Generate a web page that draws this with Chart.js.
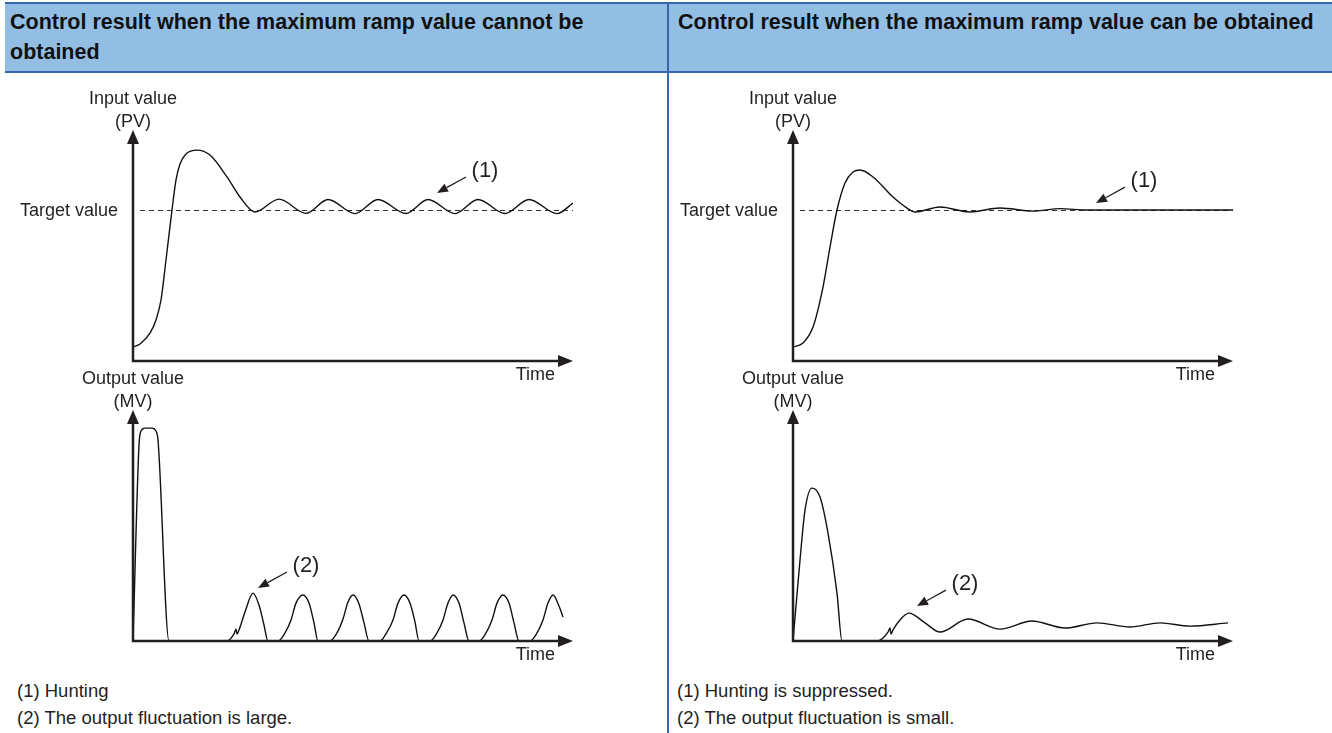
<!DOCTYPE html>
<html>
<head>
<meta charset="utf-8">
<script src="https://cdn.jsdelivr.net/npm/chart.js@4.4.1/dist/chart.umd.min.js"></script>
<style>
  body { margin: 0; width: 1332px; height: 733px; background: #fff; position: relative; overflow: hidden;
         font-family: "Liberation Sans", Arial, sans-serif; color: #231f20; }
  .bar { position: absolute; background: #3b64b0; }
  .head { position: absolute; top: 4px; height: 67px; background: #92bee4; }
  .htext { position: absolute; font-weight: bold; font-size: 21.5px; line-height: 30px; color: #111; white-space: nowrap; }
  .note { position: absolute; font-size: 18.5px; line-height: 20px; white-space: nowrap; }
  canvas { position: absolute; }
</style>
</head>
<body>
<div class="head" style="left:5px;width:662px"></div>
<div class="head" style="left:669px;width:663px"></div>
<div class="bar" style="left:5px;top:2px;width:1327px;height:2px"></div>
<div class="bar" style="left:5px;top:71px;width:1327px;height:2px"></div>
<div class="bar" style="left:667px;top:2px;width:2px;height:731px"></div>
<div class="htext" style="left:10px;top:7px">Control result when the maximum ramp value cannot be<br>obtained</div>
<div class="htext" style="left:678px;top:7px">Control result when the maximum ramp value can be obtained</div>

<canvas id="pvHunt" width="668" height="300" style="left:0;top:80px"></canvas>
<canvas id="mvHunt" width="668" height="300" style="left:0;top:360px"></canvas>
<canvas id="pvTuned" width="672" height="300" style="left:660px;top:80px"></canvas>
<canvas id="mvTuned" width="672" height="300" style="left:660px;top:360px"></canvas>

<div class="note" style="left:17px;top:681px">(1) Hunting</div>
<div class="note" style="left:17px;top:708px">(2) The output fluctuation is large.</div>
<div class="note" style="left:677px;top:681px">(1) Hunting is suppressed.</div>
<div class="note" style="left:677px;top:708px">(2) The output fluctuation is small.</div>

<script>
// time runs 0..440 along each axis; PV in % of target, MV in % of the first plateau
const TIME_MAX = 440;
const TARGET = 100;
const PV_MAX = 153;
const MV_MAX = 108.5;

// ramp value not obtained: hunting
const pvHuntTime = [0, 7, 17, 23, 28, 33, 39, 43, 47, 53, 64, 77, 94, 107, 122,
  146, 173, 195, 222, 245, 273, 295, 322, 345, 372, 396, 424, 440];
const pvHuntValue = [9.3, 11.3, 18.5, 27.2, 40.4, 66.9, 100, 119.9, 130.5, 137.1, 139.7, 136.4, 121.9, 108.6, 98.7,
  107.2, 97.8, 107, 97.6, 107, 97.7, 107, 97.6, 107, 97.7, 107, 97.6, 104.6];

const mvHuntTime = [0, 6, 8, 12, 19, 23, 25, 36,
  94, 101, 103, 104, 106, 112, 120, 126, 131, 135,
  145, 152, 158, 163, 170, 176, 181, 185,
  197, 204, 210, 215, 220, 226, 231, 236,
  247, 254, 260, 265, 271, 277, 282, 286,
  297, 304, 310, 315, 320, 326, 331, 336,
  346, 353, 359, 364, 370, 376, 381, 386,
  397, 404, 410, 415, 420, 426, 430];
const mvHuntValue = [0, 92.0, 98.6, 100, 100, 98.6, 94.4, 0,
  0, 3.3, 5.6, 3.3, 5.2, 13.6, 22.5, 16.9, 7.5, 0,
  0, 3.8, 9.9, 17.8, 21.6, 17.8, 8.5, 0,
  0, 3.8, 10.3, 18.3, 21.6, 17.4, 8.5, 0,
  0, 4.2, 9.9, 17.8, 21.6, 17.8, 8.9, 0,
  0, 3.8, 9.9, 17.8, 21.6, 17.8, 8.5, 0,
  0, 3.8, 9.9, 17.8, 21.6, 17.8, 8.5, 0,
  0, 3.8, 9.9, 17.8, 21.6, 16.4, 11.3];

// ramp value obtained: hunting suppressed
const pvTunedTime = [0, 10, 20, 30, 37, 44, 52, 60, 67, 80, 100, 114, 122,
  147, 177, 207, 240, 267, 294, 440];
const pvTunedValue = [9.3, 11.9, 22.5, 49.0, 75.5, 100, 117.9, 125.2, 126.5, 121.9, 108.6, 101.3, 98.7,
  102.0, 98.7, 101.3, 99.3, 100.9, 100, 100];

const mvTunedTime = [0, 7, 12, 19, 27, 35, 44, 49,
  84, 95, 97, 98, 100, 107, 116, 132, 147, 175, 207, 239, 272, 304, 337, 367, 397, 435];
const mvTunedValue = [0, 38.0, 61.5, 71.8, 67.6, 50.7, 22.5, 0,
  0, 4.2, 6.1, 3.3, 5.2, 9.9, 13.1, 8.5, 4.2, 10.3, 5.6, 9.4, 6.1, 8.5, 6.6, 8.5, 7.0, 8.5];

const ink = '#231f20';
const FONT = '"Liberation Sans", Arial, sans-serif';

// axes with arrowheads, target line, labels and the numbered pointer
const diagram = {
  id: 'diagram',
  beforeDatasetsDraw(chart, args, o) {
    if (o.target == null) return;
    const { ctx, chartArea: a, scales: { y } } = chart;
    const ty = Math.round(y.getPixelForValue(o.target)) + 0.5;
    ctx.save();
    ctx.strokeStyle = '#333';
    ctx.lineWidth = 1;
    ctx.setLineDash([5, 4]);
    ctx.beginPath();
    ctx.moveTo(a.left + 7, ty);
    ctx.lineTo(a.right, ty);
    ctx.stroke();
    ctx.setLineDash([]);
    ctx.fillStyle = ink;
    ctx.font = '18px ' + FONT;
    ctx.textAlign = 'right';
    ctx.textBaseline = 'middle';
    ctx.fillText('Target value', a.left - 15, ty + 1);
    ctx.restore();
  },
  afterDatasetsDraw(chart, args, o) {
    const { ctx, chartArea: a, scales: { x, y } } = chart;
    ctx.save();
    ctx.strokeStyle = ink;
    ctx.fillStyle = ink;
    ctx.lineWidth = 2.5;
    ctx.lineJoin = 'miter';
    ctx.beginPath();
    ctx.moveTo(a.left, a.top + 10);
    ctx.lineTo(a.left, a.bottom);
    ctx.lineTo(a.right - 10, a.bottom);
    ctx.stroke();
    ctx.beginPath();
    ctx.moveTo(a.left, a.top);
    ctx.lineTo(a.left - 6, a.top + 14);
    ctx.lineTo(a.left + 6, a.top + 14);
    ctx.closePath();
    ctx.fill();
    ctx.beginPath();
    ctx.moveTo(a.right, a.bottom);
    ctx.lineTo(a.right - 15, a.bottom - 6);
    ctx.lineTo(a.right - 15, a.bottom + 6);
    ctx.closePath();
    ctx.fill();

    ctx.font = '18px ' + FONT;
    ctx.textBaseline = 'middle';
    ctx.textAlign = 'center';
    ctx.fillText(o.title[0], a.left, a.top - 31);
    ctx.fillText(o.title[1], a.left, a.top - 8);
    ctx.textAlign = 'right';
    ctx.fillText('Time', a.right - 18, a.bottom + 14);

    // pointer to the marked part of the curve
    const tx = x.getPixelForValue(o.mark.x);
    const ty = y.getPixelForValue(o.mark.y);
    const sx = tx + 29, sy = ty - 16;
    const ang = Math.atan2(ty - sy, tx - sx);
    const bx = tx - 11 * Math.cos(ang), by = ty - 11 * Math.sin(ang);
    const nx = -Math.sin(ang) * 4.5, ny = Math.cos(ang) * 4.5;
    ctx.lineWidth = 1.3;
    ctx.beginPath();
    ctx.moveTo(sx, sy);
    ctx.lineTo(bx, by);
    ctx.stroke();
    ctx.beginPath();
    ctx.moveTo(tx, ty);
    ctx.lineTo(bx + nx, by + ny);
    ctx.lineTo(bx - nx, by - ny);
    ctx.closePath();
    ctx.fill();
    ctx.font = '22px ' + FONT;
    ctx.textAlign = 'center';
    ctx.fillText(o.mark.text, tx + 48, ty - 22);
    ctx.restore();
  }
};

function makeChart(id, times, values, yMax, padRight, opts) {
  return new Chart(document.getElementById(id), {
    type: 'line',
    data: {
      datasets: [{
        data: times.map((t, i) => ({ x: t, y: values[i] })),
        borderColor: '#111',
        borderWidth: 1.4,
        pointRadius: 0,
        cubicInterpolationMode: 'monotone',
        fill: false
      }]
    },
    options: {
      responsive: false,
      animation: false,
      events: [],
      layout: { padding: { left: 133, right: padRight, top: 50, bottom: 19 } },
      scales: {
        x: { type: 'linear', min: 0, max: TIME_MAX, display: false },
        y: { min: 0, max: yMax, display: false }
      },
      plugins: {
        legend: { display: false },
        tooltip: { enabled: false },
        diagram: opts
      }
    },
    plugins: [diagram]
  });
}

makeChart('pvHunt', pvHuntTime, pvHuntValue, PV_MAX, 95, {
  title: ['Input value', '(PV)'], target: TARGET, mark: { x: 304, y: 111.3, text: '(1)' }
});
makeChart('mvHunt', mvHuntTime, mvHuntValue, MV_MAX, 95, {
  title: ['Output value', '(MV)'], mark: { x: 125, y: 24.9, text: '(2)' }
});
makeChart('pvTuned', pvTunedTime, pvTunedValue, PV_MAX, 99, {
  title: ['Input value', '(PV)'], target: TARGET, mark: { x: 303, y: 104.6, text: '(1)' }
});
makeChart('mvTuned', mvTunedTime, mvTunedValue, MV_MAX, 99, {
  title: ['Output value', '(MV)'], mark: { x: 124, y: 16.4, text: '(2)' }
});
</script>
</body>
</html>
